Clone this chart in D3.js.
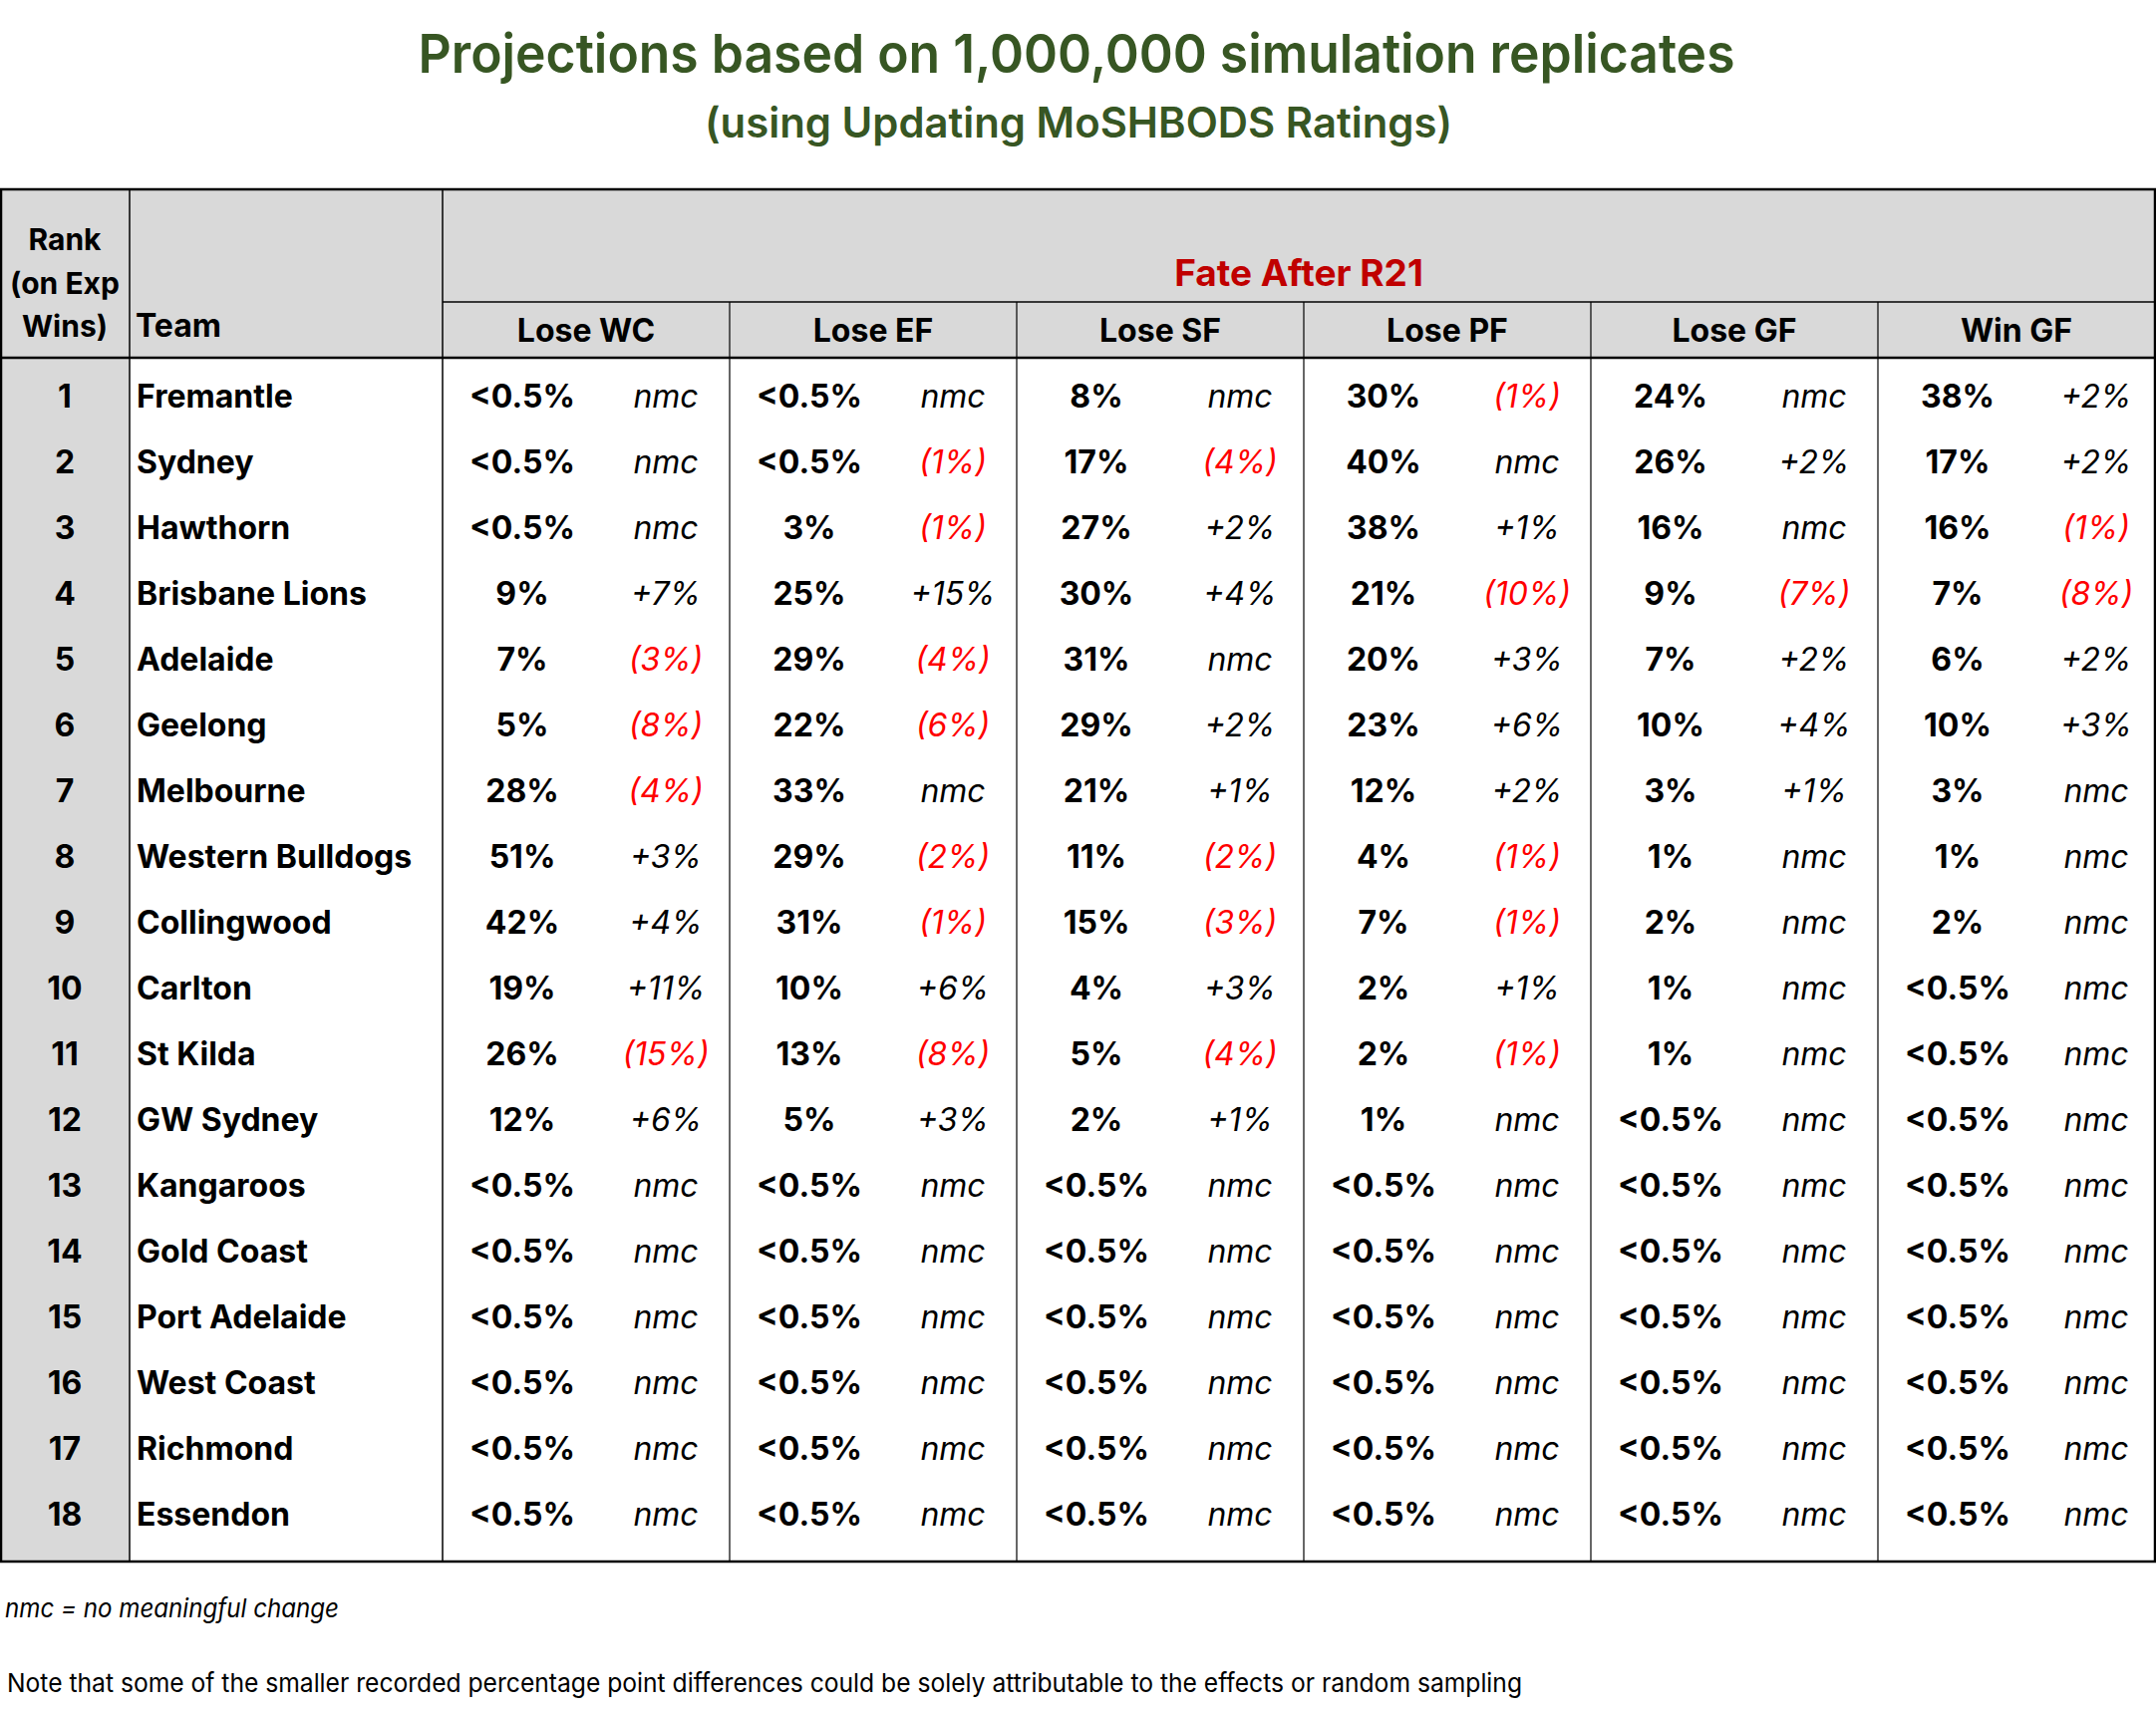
<!DOCTYPE html>
<html>
<head>
<meta charset="utf-8">
<script src="https://cdn.jsdelivr.net/npm/d3@7"></script>
<style>
  body { margin: 0; background: #fff; }
  svg { display: block; }
</style>
</head>
<body>
<div class="canvas"></div>
<script>
// values read off the table, in percent; 0.4 stands for "<0.5%"
// change columns are percentage points, 0 = nmc (no meaningful change)
const ranks = [1, 2, 3, 4, 5, 6, 7, 8, 9, 10, 11, 12, 13, 14, 15, 16, 17, 18];
const teams = ['Fremantle', 'Sydney', 'Hawthorn', 'Brisbane Lions', 'Adelaide', 'Geelong',
  'Melbourne', 'Western Bulldogs', 'Collingwood', 'Carlton', 'St Kilda', 'GW Sydney',
  'Kangaroos', 'Gold Coast', 'Port Adelaide', 'West Coast', 'Richmond', 'Essendon'];
const stages = ['Lose WC', 'Lose EF', 'Lose SF', 'Lose PF', 'Lose GF', 'Win GF'];

const loseWC    = [0.4, 0.4, 0.4, 9, 7, 5, 28, 51, 42, 19, 26, 12, 0.4, 0.4, 0.4, 0.4, 0.4, 0.4];
const loseWCChg = [0, 0, 0, 7, -3, -8, -4, 3, 4, 11, -15, 6, 0, 0, 0, 0, 0, 0];
const loseEF    = [0.4, 0.4, 3, 25, 29, 22, 33, 29, 31, 10, 13, 5, 0.4, 0.4, 0.4, 0.4, 0.4, 0.4];
const loseEFChg = [0, -1, -1, 15, -4, -6, 0, -2, -1, 6, -8, 3, 0, 0, 0, 0, 0, 0];
const loseSF    = [8, 17, 27, 30, 31, 29, 21, 11, 15, 4, 5, 2, 0.4, 0.4, 0.4, 0.4, 0.4, 0.4];
const loseSFChg = [0, -4, 2, 4, 0, 2, 1, -2, -3, 3, -4, 1, 0, 0, 0, 0, 0, 0];
const losePF    = [30, 40, 38, 21, 20, 23, 12, 4, 7, 2, 2, 1, 0.4, 0.4, 0.4, 0.4, 0.4, 0.4];
const losePFChg = [-1, 0, 1, -10, 3, 6, 2, -1, -1, 1, -1, 0, 0, 0, 0, 0, 0, 0];
const loseGF    = [24, 26, 16, 9, 7, 10, 3, 1, 2, 1, 1, 0.4, 0.4, 0.4, 0.4, 0.4, 0.4, 0.4];
const loseGFChg = [0, 2, 0, -7, 2, 4, 1, 0, 0, 0, 0, 0, 0, 0, 0, 0, 0, 0];
const winGF     = [38, 17, 16, 7, 6, 10, 3, 1, 2, 0.4, 0.4, 0.4, 0.4, 0.4, 0.4, 0.4, 0.4, 0.4];
const winGFChg  = [2, 2, -1, -8, 2, 3, 0, 0, 0, 0, 0, 0, 0, 0, 0, 0, 0, 0];

const stageValues = [loseWC, loseEF, loseSF, losePF, loseGF, winGF];
const stageChanges = [loseWCChg, loseEFChg, loseSFChg, losePFChg, loseGFChg, winGFChg];

const width = 2163, height = 1717;
const green = '#375623', red = '#C00000', negRed = '#FF0000', grey = '#D9D9D9';
const font = 'Inter, "Open Sans", sans-serif';

const svg = d3.select('.canvas')
  .append('svg')
  .attr('width', width)
  .attr('height', height)
  .attr('font-family', font);

svg.append('rect').attr('width', width).attr('height', height).attr('fill', '#fff');

// table frame
const table = { left: 0, right: 2162, top: 190, sub: 303, head: 359, bottom: 1567 };
const rankRight = 130, teamRight = 444;

// columns
const groupLeft = d3.scaleOrdinal(stages, [444, 732, 1020, 1308, 1596, 1884]);
const groupRight = d3.scaleOrdinal(stages, [732, 1020, 1308, 1596, 1884, 2162]);

// rows
const y = d3.scaleBand()
  .domain(teams)
  .range([table.head, table.head + 66 * teams.length]);
const base = 50; // text baseline inside a row

const fmtVal = v => v < 0.5 ? '<0.5%' : d3.format('d')(v) + '%';
const fmtChg = c => c === 0 ? 'nmc' : c > 0 ? '+' + c + '%' : '(' + Math.abs(c) + '%)';

// backgrounds
svg.append('rect')
  .attr('x', table.left).attr('y', table.top)
  .attr('width', table.right - table.left).attr('height', table.head - table.top)
  .attr('fill', grey);
svg.append('rect')
  .attr('x', table.left).attr('y', table.head)
  .attr('width', rankRight).attr('height', table.bottom - table.head)
  .attr('fill', grey);

// titles
const title = svg.append('g').attr('fill', green).attr('font-weight', 600);
title.append('text')
  .attr('x', 1080).attr('y', 73)
  .attr('text-anchor', 'middle')
  .attr('font-size', 54)
  .attr('textLength', 1321).attr('lengthAdjust', 'spacingAndGlyphs')
  .text('Projections based on 1,000,000 simulation replicates');
title.append('text')
  .attr('x', 1082).attr('y', 138)
  .attr('text-anchor', 'middle')
  .attr('font-size', 42)
  .attr('textLength', 750).attr('lengthAdjust', 'spacingAndGlyphs')
  .text('(using Updating MoSHBODS Ratings)');

// header text
const head = svg.append('g').attr('font-weight', 'bold').attr('font-size', 30);
const hText = (x, yy, txt, anchor) => head.append('text')
  .attr('x', x).attr('y', yy)
  .attr('text-anchor', anchor)
  .text(txt);

hText(65, 251, 'Rank', 'middle');
hText(65, 295, '(on Exp', 'middle');
hText(65, 338, 'Wins)', 'middle');
hText(136, 338, 'Team', 'start').attr('font-size', 32);

head.append('text')
  .attr('x', (teamRight + table.right) / 2).attr('y', 287)
  .attr('text-anchor', 'middle')
  .attr('font-size', 37)
  .attr('fill', red)
  .text('Fate After R21');

head.selectAll('.stage')
  .data(stages)
  .join('text')
  .attr('class', 'stage')
  .attr('x', d => (groupLeft(d) + groupRight(d)) / 2)
  .attr('y', 343)
  .attr('font-size', 32)
  .attr('text-anchor', 'middle')
  .text(d => d);

// body
const body = svg.append('g').attr('font-size', 32);

body.selectAll('.rank')
  .data(ranks)
  .join('text')
  .attr('class', 'rank')
  .attr('x', rankRight / 2)
  .attr('y', (d, i) => y(teams[i]) + base)
  .attr('text-anchor', 'middle')
  .attr('font-weight', 'bold')
  .text(d => d);

body.selectAll('.team')
  .data(teams)
  .join('text')
  .attr('class', 'team')
  .attr('x', 137)
  .attr('y', d => y(d) + base)
  .attr('font-weight', 'bold')
  .text(d => d);

stages.forEach((stage, s) => {
  const left = groupLeft(stage), right = groupRight(stage);
  const g = body.append('g');
  g.selectAll('.val')
    .data(stageValues[s])
    .join('text')
    .attr('class', 'val')
    .attr('x', left + 80)
    .attr('y', (d, i) => y(teams[i]) + base)
    .attr('text-anchor', 'middle')
    .attr('font-weight', 'bold')
    .text(fmtVal);
  g.selectAll('.chg')
    .data(stageChanges[s])
    .join('text')
    .attr('class', 'chg')
    .attr('x', (left + 160 + right) / 2)
    .attr('y', (d, i) => y(teams[i]) + base)
    .attr('text-anchor', 'middle')
    .attr('font-style', 'italic')
    .attr('fill', d => d < 0 ? negRed : '#000')
    .text(fmtChg);
});

// grid lines
const lines = svg.append('g').attr('stroke', '#000').attr('fill', 'none');
lines.append('line').attr('x1', rankRight).attr('x2', rankRight).attr('y1', table.top).attr('y2', table.bottom).attr('stroke-width', 1.5);
lines.append('line').attr('x1', teamRight).attr('x2', teamRight).attr('y1', table.top).attr('y2', table.bottom).attr('stroke-width', 1.5);
lines.selectAll('.gl')
  .data(stages.slice(1))
  .join('line')
  .attr('class', 'gl')
  .attr('x1', d => groupLeft(d)).attr('x2', d => groupLeft(d))
  .attr('y1', table.sub).attr('y2', table.bottom)
  .attr('stroke-width', 1.2);
lines.append('line').attr('x1', teamRight).attr('x2', table.right).attr('y1', table.sub).attr('y2', table.sub).attr('stroke-width', 1.5);
lines.append('line').attr('x1', table.left).attr('x2', table.right).attr('y1', table.head).attr('y2', table.head).attr('stroke-width', 2.5);
lines.append('rect')
  .attr('x', table.left + 1).attr('y', table.top)
  .attr('width', table.right - table.left - 1).attr('height', table.bottom - table.top)
  .attr('stroke-width', 2.5);

// footnotes
const foot = svg.append('g').attr('font-size', 26).attr('fill', '#000');
foot.append('text')
  .attr('x', 5).attr('y', 1623)
  .attr('font-style', 'italic')
  .attr('textLength', 335).attr('lengthAdjust', 'spacingAndGlyphs')
  .text('nmc = no meaningful change');
foot.append('text')
  .attr('x', 7).attr('y', 1698)
  .attr('textLength', 1520).attr('lengthAdjust', 'spacingAndGlyphs')
  .text('Note that some of the smaller recorded percentage point differences could be solely attributable to the effects or random sampling');
</script>
</body>
</html>
